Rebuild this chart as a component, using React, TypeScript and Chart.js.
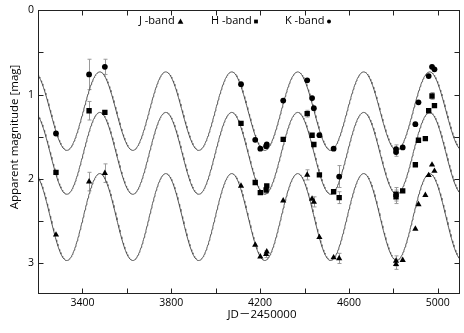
import { useEffect, useRef } from 'react';
import { Chart, registerables } from 'chart.js';

Chart.register(...registerables);

const FONT = '"Open Sans", "Noto Sans", "Noto Sans CJK JP", sans-serif';

// Axis ranges and tick labels
const X_MIN = 3200;
const X_MAX = 5100;
const Y_MIN = 0;
const Y_MAX = 3.35;
const X_TICKS = [3400, 3800, 4200, 4600, 5000];
const Y_TICKS = [0, 1, 2, 3];
const X_MINOR_STEP = 200;
const Y_MINOR_STEP = 0.5;

// K-band observations (JD-2450000, magnitude, error)
const K_JD = [3281, 3430, 3501, 4114, 4178, 4201, 4227, 4230, 4304, 4412, 4434, 4442, 4467, 4531, 4556, 4812, 4812, 4842, 4899, 4913, 4959, 4974, 4985];
const K_MAG = [1.46, 0.76, 0.67, 0.875, 1.535, 1.64, 1.61, 1.59, 1.07, 0.83, 1.04, 1.16, 1.48, 1.64, 1.97, 1.645, 1.68, 1.625, 1.35, 1.09, 0.78, 0.67, 0.7];
const K_ERR = [0.02, 0.18, 0.09, 0.02, 0.02, 0.02, 0.03, 0.02, 0.02, 0.02, 0.02, 0.02, 0.02, 0.02, 0.13, 0.05, 0.05, 0.02, 0.03, 0.03, 0.03, 0.02, 0.02];

// H-band observations
const H_JD = [3281, 3430, 3501, 4114, 4178, 4201, 4227, 4230, 4304, 4412, 4434, 4442, 4467, 4531, 4556, 4812, 4812, 4842, 4899, 4913, 4944, 4959, 4974, 4985];
const H_MAG = [1.92, 1.19, 1.21, 1.34, 2.04, 2.16, 2.13, 2.08, 1.53, 1.225, 1.48, 1.59, 1.95, 2.15, 2.22, 2.18, 2.21, 2.14, 1.83, 1.54, 1.52, 1.19, 1.015, 1.13];
const H_ERR = [0.02, 0.11, 0.03, 0.02, 0.02, 0.02, 0.04, 0.03, 0.02, 0.04, 0.02, 0.02, 0.02, 0.02, 0.07, 0.08, 0.08, 0.02, 0.02, 0.02, 0.02, 0.02, 0.04, 0.02];

// J-band observations
const J_JD = [3281, 3430, 3501, 4114, 4178, 4201, 4227, 4230, 4304, 4412, 4434, 4442, 4467, 4531, 4556, 4812, 4812, 4842, 4899, 4913, 4944, 4959, 4974, 4985];
const J_MAG = [2.66, 2.03, 1.93, 2.08, 2.78, 2.92, 2.89, 2.86, 2.255, 1.95, 2.235, 2.27, 2.69, 2.93, 2.94, 2.97, 3.01, 2.96, 2.59, 2.3, 2.19, 1.955, 1.83, 1.905];
const J_ERR = [0.02, 0.11, 0.11, 0.02, 0.02, 0.02, 0.04, 0.03, 0.02, 0.06, 0.03, 0.06, 0.02, 0.02, 0.06, 0.06, 0.06, 0.02, 0.02, 0.02, 0.02, 0.02, 0.02, 0.02];

// Fitted sinusoidal light-curve model (period, epoch of maximum brightness, mean, amplitude)
const PERIOD = 297;
const EPOCH = 3478;
const K_MODEL = [1.195, 0.465];
const H_MODEL = [1.695, 0.485];
const J_MODEL = [2.45, 0.515];
const MODEL_SAMPLES = 700;

const LEGEND = [
  { text: 'J -band', shape: 'triangle' },
  { text: 'H -band', shape: 'rect' },
  { text: 'K -band', shape: 'circle' },
];

function modelCurve(m: number[]) {
  const pts: { x: number; y: number }[] = [];
  for (let i = 0; i <= MODEL_SAMPLES; i++) {
    const t = X_MIN + ((X_MAX - X_MIN) * i) / MODEL_SAMPLES;
    pts.push({ x: t, y: m[0] - m[1] * Math.cos((2 * Math.PI * (t - EPOCH)) / PERIOD) });
  }
  return pts;
}

function obs(jd: number[], mag: number[]) {
  return jd.map((x, i) => ({ x, y: mag[i] }));
}

function drawShape(ctx: CanvasRenderingContext2D, shape: string, x: number, y: number, s: number) {
  ctx.beginPath();
  if (shape === 'triangle') {
    ctx.moveTo(x, y - s * 0.6);
    ctx.lineTo(x + s * 0.6, y + s * 0.45);
    ctx.lineTo(x - s * 0.6, y + s * 0.45);
    ctx.closePath();
  } else if (shape === 'rect') {
    ctx.rect(x - s / 2, y - s / 2, s, s);
  } else {
    ctx.arc(x, y, s / 2, 0, Math.PI * 2);
  }
  ctx.fill();
}

const decor = {
  id: 'decor',
  beforeDatasetsDraw(chart: any) {
    const ctx = chart.ctx as CanvasRenderingContext2D;
    const xs = chart.scales.x;
    const ys = chart.scales.y;
    ctx.save();
    ctx.beginPath();
    ctx.rect(chart.chartArea.left, chart.chartArea.top, chart.chartArea.right - chart.chartArea.left, chart.chartArea.bottom - chart.chartArea.top);
    ctx.clip();
    ctx.strokeStyle = '#9a9a9a';
    ctx.lineWidth = 1;
    chart.data.datasets.forEach((ds: any) => {
      if (!ds.err) return;
      ds.data.forEach((p: any, i: number) => {
        const e = ds.err[i];
        if (!e || e < 0.04) return;
        const px = Math.round(xs.getPixelForValue(p.x)) + 0.5;
        const y1 = ys.getPixelForValue(p.y - e);
        const y2 = ys.getPixelForValue(p.y + e);
        ctx.beginPath();
        ctx.moveTo(px, y1);
        ctx.lineTo(px, y2);
        ctx.moveTo(px - 2, y1);
        ctx.lineTo(px + 2, y1);
        ctx.moveTo(px - 2, y2);
        ctx.lineTo(px + 2, y2);
        ctx.stroke();
      });
    });
    ctx.restore();
  },
  afterDraw(chart: any) {
    const ctx = chart.ctx as CanvasRenderingContext2D;
    const { left, right, top, bottom } = chart.chartArea;
    const xs = chart.scales.x;
    const ys = chart.scales.y;
    const L = Math.round(left) + 0.5;
    const R = Math.round(right) - 0.5;
    const T = Math.round(top) + 0.5;
    const B = Math.round(bottom) + 0.5;
    ctx.save();
    ctx.strokeStyle = '#222';
    ctx.lineWidth = 1;
    ctx.strokeRect(L, T, R - L, B - T);
    const tl = 5;
    ctx.beginPath();
    for (let v = X_MIN + X_MINOR_STEP; v < X_MAX; v += X_MINOR_STEP) {
      const px = Math.round(xs.getPixelForValue(v)) + 0.5;
      ctx.moveTo(px, B);
      ctx.lineTo(px, B - tl);
      ctx.moveTo(px, T);
      ctx.lineTo(px, T + tl);
    }
    for (let v = Y_MIN + Y_MINOR_STEP; v < Y_MAX; v += Y_MINOR_STEP) {
      const py = Math.round(ys.getPixelForValue(v)) + 0.5;
      ctx.moveTo(L, py);
      ctx.lineTo(L + tl, py);
      ctx.moveTo(R, py);
      ctx.lineTo(R - tl, py);
    }
    ctx.stroke();

    // legend
    ctx.fillStyle = '#000';
    ctx.font = `11px ${FONT}`;
    ctx.textBaseline = 'middle';
    ctx.textAlign = 'left';
    const lx = [139, 211, 285];
    const mx = [180.5, 256, 329];
    const sz = [4.8, 3.8, 4];
    LEGEND.forEach((it, i) => {
      ctx.fillText(it.text, lx[i], 21);
      drawShape(ctx, it.shape, mx[i], 21.5, sz[i]);
    });

    // axis titles
    ctx.font = `11.5px ${FONT}`;
    ctx.textAlign = 'center';
    ctx.fillText('JD－2450000', 262, 314.5);
    ctx.save();
    ctx.translate(15, 137);
    ctx.rotate(-Math.PI / 2);
    ctx.fillText('Apparent magnitude [mag]', 0, 0);
    ctx.restore();
    ctx.restore();
  },
};

export default function App() {
  const ref = useRef<HTMLCanvasElement>(null);
  useEffect(() => {
    const canvas = ref.current;
    if (!canvas) return;
    const curve = (m: number[]) => ({
      data: modelCurve(m),
      showLine: true,
      pointRadius: 0,
      borderColor: '#555',
      borderWidth: 1,
      tension: 0,
      order: 2,
    });
    const pts = (jd: number[], mag: number[], err: number[], style: string, r: number) => ({
      data: obs(jd, mag),
      err,
      showLine: false,
      pointStyle: style,
      pointRadius: r,
      backgroundColor: '#000',
      borderColor: '#000',
      borderWidth: 0,
      order: 0,
    });
    const chart = new Chart(canvas, {
      type: 'scatter',
      data: {
        datasets: [
          curve(K_MODEL),
          curve(H_MODEL),
          curve(J_MODEL),
          pts(K_JD, K_MAG, K_ERR, 'circle', 2.9),
          pts(H_JD, H_MAG, H_ERR, 'rect', 3.8),
          pts(J_JD, J_MAG, J_ERR, 'triangle', 3.6),
        ] as any,
      },
      options: {
        responsive: false,
        animation: false,
        devicePixelRatio: 1,
        layout: { padding: { top: 5, right: 0, left: 0, bottom: 0 } },
        plugins: { legend: { display: false }, tooltip: { enabled: false } },
        scales: {
          x: {
            type: 'linear',
            min: X_MIN,
            max: X_MAX,
            grid: { display: false, drawTicks: false },
            border: { display: false },
            ticks: {
              font: { family: FONT, size: 10.5 },
              color: '#000',
              padding: 4,
              maxRotation: 0,
              autoSkip: false,
              callback: (v: any) => String(v),
            },
            afterBuildTicks: (s: any) => {
              s.ticks = X_TICKS.map((v) => ({ value: v }));
            },
            afterFit: (s: any) => {
              s.height = 40;
            },
          },
          y: {
            type: 'linear',
            reverse: true,
            min: Y_MIN,
            max: Y_MAX,
            grid: { display: false, drawTicks: false },
            border: { display: false },
            ticks: {
              font: { family: FONT, size: 10.5 },
              color: '#000',
              padding: 4,
              autoSkip: false,
              callback: (v: any) => String(v),
            },
            afterBuildTicks: (s: any) => {
              s.ticks = Y_TICKS.map((v) => ({ value: v }));
            },
            afterFit: (s: any) => {
              s.width = 38;
            },
          },
        },
      } as any,
      plugins: [decor as any],
    });
    return () => chart.destroy();
  }, []);
  return (
    <div style={{ position: 'absolute', left: 0, top: 0, width: 464, height: 333, background: '#fff' }}>
      <canvas ref={ref} width={464} height={333} style={{ display: 'block' }} />
    </div>
  );
}
